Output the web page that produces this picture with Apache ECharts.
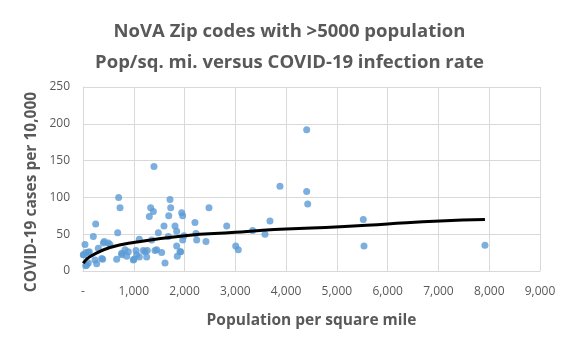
<!DOCTYPE html>
<html>
<head>
<meta charset="utf-8">
<script src="https://cdn.jsdelivr.net/npm/echarts@6/dist/echarts.min.js"></script>
<style>
  html, body { margin: 0; padding: 0; background: #fff; }
  #main { width: 579px; height: 351px; }
</style>
</head>
<body>
<div id="main"></div>
<script>
// population per square mile for each zip code
var popDensity = [
  39, 6, 59, 124, 53, 105, 203, 250, 236, 269,
  302, 400, 387, 532, 663, 683, 702, 729, 761, 827,
  860, 1004, 1044, 1109, 1109, 1221, 1306, 1333, 1385, 1398,
  1353, 1266, 1451, 1549, 1483, 1595, 1615, 1713, 1727, 1688,
  1812, 1845, 1845, 1857, 1944, 1963, 1989, 1924, 1680, 2205,
  2225, 2239, 2422, 2481, 2830, 3007, 3058, 3341, 3584, 3682,
  3879, 4405, 4405, 4425, 5520, 5534, 7916,
  12, 104, 73, 368, 762, 892, 990, 1057, 1187, 1254, 1418, 498, 419, 1963, 1910
];
// COVID-19 cases per 10,000 residents
var casesPer10k = [
  36, 22, 25, 26, 7, 11, 47, 64, 15, 10,
  31, 38, 16, 36, 16, 52, 100, 86, 24, 29,
  20, 16, 28, 43, 19, 26, 74, 86, 81, 142,
  42, 28, 29, 25, 52, 61, 11, 97, 86, 75,
  61, 54, 34, 20, 79, 75, 48, 26, 47, 66,
  51, 42, 40, 86, 61, 34, 29, 55, 50, 68,
  115, 192, 108, 91, 70, 34, 35,
  22, 25, 8, 17, 22, 26, 15, 22, 28, 19, 28, 38, 40, 42, 26
];
// trendline (Excel power fit)
var trendX = [6, 39, 105, 200, 532, 1024, 2008, 3000, 3486, 4000, 5060, 6000, 7030, 7916];
var trendY = [10.5, 13.6, 18, 22, 32, 39, 48, 52.5, 55, 57, 60, 64, 68, 70];

var xTicks = [0, 1000, 2000, 3000, 4000, 5000, 6000, 7000, 8000, 9000];
var yTicks = [0, 50, 100, 150, 200, 250];

var points = popDensity.map(function (x, i) { return [x, casesPer10k[i]]; });
var trend = trendX.map(function (x, i) { return [x, trendY[i]]; });

var txt = '#595959';
var font = 'Open Sans';

var myChart = echarts.init(document.getElementById('main'));
var option = {
  animation: false,
  backgroundColor: '#fff',
  title: {
    text: 'NoVA Zip codes with >5000 population\nPop/sq. mi. versus COVID-19 infection rate',
    left: 'center',
    top: 11,
    textStyle: { color: txt, fontFamily: font, fontWeight: 'bold', fontSize: 18.5, lineHeight: 31 }
  },
  // y axis title, placed like Excel's (slightly below the plot's centre)
  graphic: [{
    type: 'text',
    x: 32,
    y: 192,
    rotation: Math.PI / 2,
    style: {
      text: 'COVID-19 cases per 10,000',
      fill: txt,
      font: 'bold 15.5px "Open Sans"',
      align: 'center',
      verticalAlign: 'middle'
    }
  }],
  grid: { left: 83, right: 39, top: 87, bottom: 80 },
  xAxis: {
    type: 'value',
    min: xTicks[0],
    max: xTicks[xTicks.length - 1],
    interval: 1000,
    name: 'Population per square mile',
    nameLocation: 'middle',
    nameGap: 42,
    nameTextStyle: { color: txt, fontFamily: font, fontWeight: 'bold', fontSize: 15.5 },
    axisLine: { lineStyle: { color: '#d9d9d9' } },
    axisTick: { show: false },
    splitLine: { lineStyle: { color: '#d9d9d9' } },
    axisLabel: {
      color: txt, fontFamily: font, fontSize: 12, margin: 15,
      formatter: function (v) { return v === 0 ? '-' : v.toLocaleString('en-US'); }
    }
  },
  yAxis: {
    type: 'value',
    min: yTicks[0],
    max: yTicks[yTicks.length - 1],
    interval: 50,
    axisLine: { show: true, lineStyle: { color: '#d9d9d9' } },
    axisTick: { show: false },
    splitLine: { lineStyle: { color: '#d9d9d9' } },
    axisLabel: { color: txt, fontFamily: font, fontSize: 12, margin: 13 }
  },
  series: [
    {
      type: 'scatter',
      data: points,
      symbolSize: 7,
      itemStyle: { color: '#5b9bd5' },
      z: 2
    },
    {
      type: 'line',
      data: trend,
      showSymbol: false,
      smooth: true,
      lineStyle: { color: '#000', width: 3 },
      z: 3
    }
  ]
};
myChart.setOption(option);
</script>
</body>
</html>
